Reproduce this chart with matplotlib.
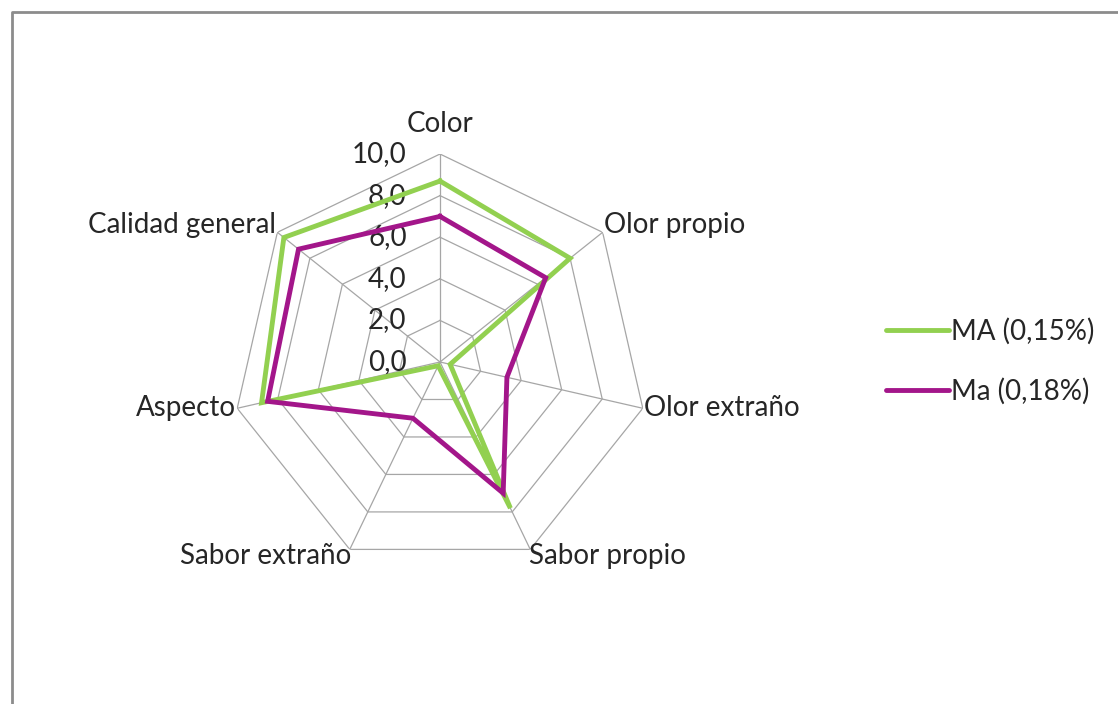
import numpy as np
import matplotlib
matplotlib.use('Agg')
from matplotlib import pyplot as plt
from matplotlib import transforms
from matplotlib.lines import Line2D

plt.rcParams['font.family'] = ['Lato', 'DejaVu Sans']

categorias = ['Color', 'Olor propio', 'Olor extraño', 'Sabor propio',
              'Sabor extraño', 'Aspecto', 'Calidad general']
serie_MA = [8.7, 8.0, 0.5, 7.8, 0.2, 8.8, 9.6]
serie_Ma = [7.0, 6.5, 3.3, 7.0, 3.0, 8.5, 8.7]
nombres = ['MA (0,15%)', 'Ma (0,18%)']
colores = ['#92D050', '#A3168A']
niveles = [0, 2, 4, 6, 8, 10]

W, H = 1118, 704
fig = plt.figure(figsize=(W / 100, H / 100), dpi=100)

# centro y radio del radar en pixeles
cx, cy, R = 440, 362, 208
ax = fig.add_axes([(cx - R) / W, (H - cy - R) / H, 2 * R / W, 2 * R / H], polar=True)
ax.set_theta_zero_location('N')
ax.set_theta_direction(-1)
ax.set_ylim(0, 10)
ax.grid(False)
ax.spines['polar'].set_visible(False)
ax.set_xticks([])
ax.set_yticks([])
ax.patch.set_alpha(0)

n = len(categorias)
ang = np.linspace(0, 2 * np.pi, n, endpoint=False)
ang_c = np.append(ang, ang[0])

# rejilla heptagonal
for r in niveles[1:]:
    ax.plot(ang_c, [r] * (n + 1), color='#A6A6A6', lw=0.9, zorder=1)
for a in ang:
    ax.plot([a, a], [0, 10], color='#A6A6A6', lw=0.9, zorder=1)

# series
for vals, nom, col in zip([serie_MA, serie_Ma], nombres, colores):
    v = np.append(vals, vals[0])
    ax.plot(ang_c, v, color=col, lw=3.5, label=nom, zorder=3,
            solid_joinstyle='miter')

fs = 20
# etiquetas del eje radial
for r in niveles:
    tr = ax.transData + transforms.ScaledTranslation(-24 / 72, 0, fig.dpi_scale_trans)
    ax.text(0, r, f'{r:.1f}'.replace('.', ','), transform=tr, ha='right',
            va='center', fontsize=fs, color='#262626', zorder=2)

# etiquetas de categorias
alin = [('center', 'bottom', 0, 12), ('left', 'center', 1, 5), ('left', 'center', 1, 0),
        ('left', 'center', -1, -5), ('right', 'center', 1, -5), ('right', 'center', -1, 0),
        ('right', 'center', -1, 5)]
for a, lab, (ha, va, dx, dy) in zip(ang, categorias, alin):
    tr = ax.transData + transforms.ScaledTranslation(dx / 72, dy / 72, fig.dpi_scale_trans)
    ax.text(a, 10, lab, transform=tr, ha=ha, va=va, fontsize=fs, color='#262626')

# leyenda
handles = [Line2D([], [], color=c, lw=3.5, solid_capstyle='round') for c in colores]
fig.legend(handles, nombres, loc='center left', bbox_to_anchor=(861 / W, 1 - 361 / H),
           frameon=False, fontsize=fs, handlelength=2.25, handletextpad=0.1,
           labelspacing=1.2, labelcolor='#262626')

# marco
fig.add_artist(Line2D([12 / W, 12 / W, 1], [0, 1 - 12 / H, 1 - 12 / H],
                      transform=fig.transFigure, color='#8C8C8C', lw=2))

fig.savefig('out.png', dpi=100)
